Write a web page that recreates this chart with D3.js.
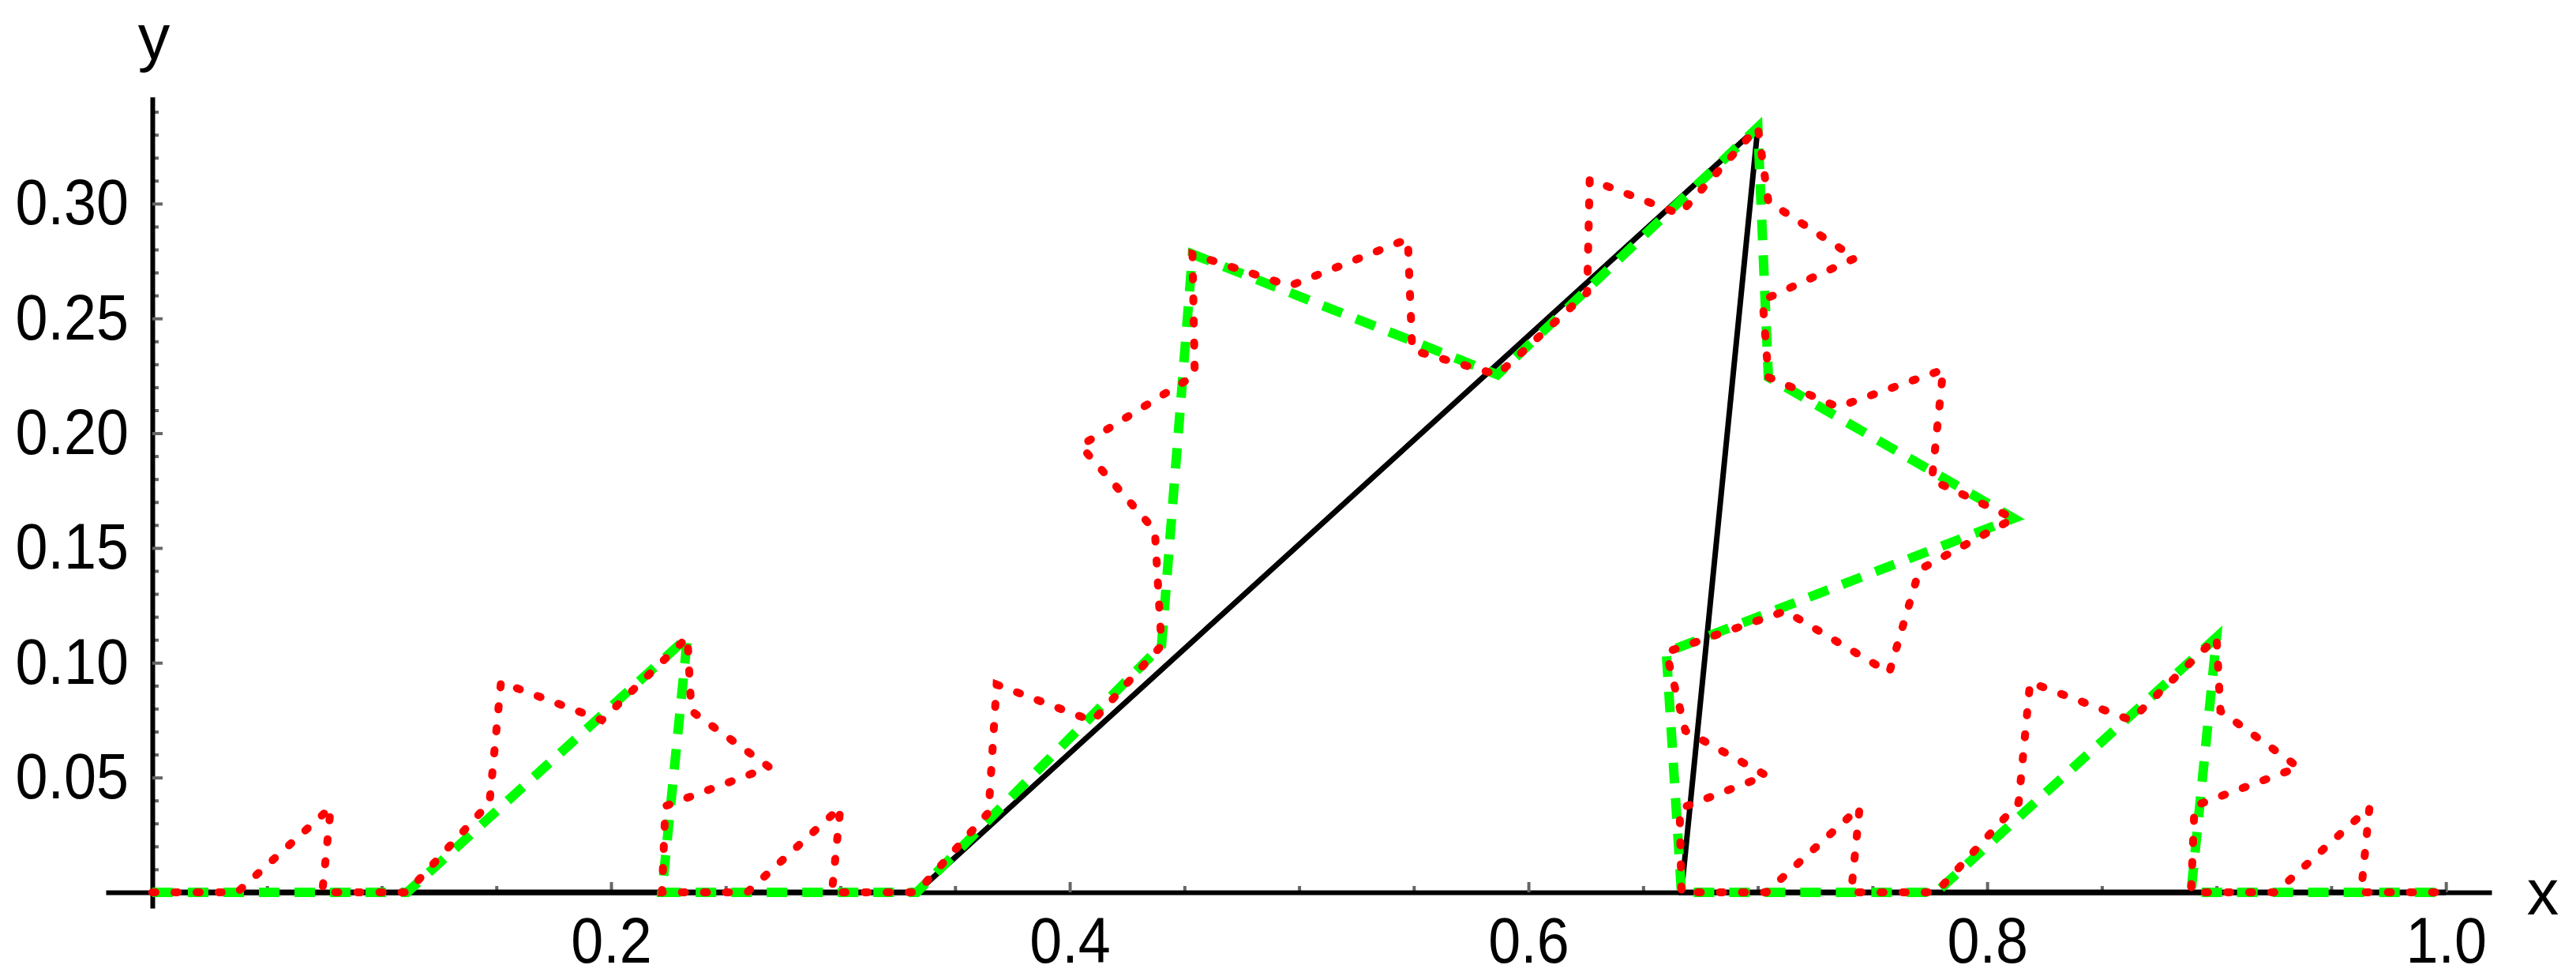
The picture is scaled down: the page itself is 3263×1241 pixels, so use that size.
<!DOCTYPE html>
<html>
<head>
<meta charset="utf-8">
<script src="https://cdn.jsdelivr.net/npm/d3@7"></script>
<style>
  body { margin: 0; background: #fff; }
  text { font-family: "Liberation Sans", Arial, sans-serif; }
</style>
</head>
<body>
<div id="chart"></div>
<script>
(() => {
  // stage 1 (black)
  const blackX = [0, 0.3333, 0.7, 0.6667, 1];
  const blackY = [0, 0, 0.3333, 0, 0];

  // stage 2 (green, dashed)
  const greenX = [0, 0.1111, 0.2333, 0.2222, 0.3333, 0.4400, 0.4535, 0.5865, 0.7000,
    0.7046, 0.8116, 0.6601, 0.6667, 0.7778, 0.9000, 0.8889, 1];
  const greenY = [0, 0, 0.1111, 0, 0, 0.1075, 0.2780, 0.2255, 0.3333,
    0.2244, 0.1629, 0.1046, 0, 0, 0.1111, 0, 0];

  // stage 3 (red, dotted)
  const redX = [0, 0.0370, 0.0778, 0.0741, 0.1111,
    0.1470, 0.1520, 0.1960, 0.2333,
    0.2350, 0.2690, 0.2237, 0.2222,
    0.2593, 0.3000, 0.2963, 0.3333,
    0.3646, 0.3681, 0.4100, 0.4400,
    0.4371, 0.4047, 0.4545, 0.4535,
    0.4960, 0.5474, 0.5493, 0.5865,
    0.6256, 0.6267, 0.6659, 0.7000,
    0.7046, 0.7425, 0.7021, 0.7046,
    0.7350, 0.7808, 0.7759, 0.8116,
    0.7704, 0.7573, 0.7120, 0.6601,
    0.6684, 0.7037, 0.6659, 0.6667,
    0.7037, 0.7444, 0.7407, 0.7778,
    0.8137, 0.8187, 0.8627, 0.9000,
    0.9017, 0.9357, 0.8904, 0.8889,
    0.9259, 0.9667, 0.9630, 1];
  const redY = [0, 0, 0.0370, 0, 0,
    0.0390, 0.0915, 0.0750, 0.1111,
    0.0790, 0.0545, 0.0376, 0,
    0, 0.0370, 0, 0,
    0.0348, 0.0905, 0.0746, 0.1075,
    0.1576, 0.1945, 0.2253, 0.2780,
    0.2642, 0.2846, 0.2362, 0.2255,
    0.2613, 0.3105, 0.2955, 0.3333,
    0.3009, 0.2763, 0.2579, 0.2244,
    0.2114, 0.2277, 0.1796, 0.1629,
    0.1405, 0.0957, 0.1225, 0.1046,
    0.0704, 0.0509, 0.0364, 0,
    0, 0.0370, 0, 0,
    0.0390, 0.0915, 0.0750, 0.1111,
    0.0790, 0.0545, 0.0376, 0,
    0, 0.0370, 0, 0];

  const xTicks = [0.2, 0.4, 0.6, 0.8, 1.0];
  const xTickLabels = ['0.2', '0.4', '0.6', '0.8', '1.0'];
  const xMinor = [0.05, 0.1, 0.15, 0.25, 0.3, 0.35, 0.45, 0.5, 0.55, 0.65, 0.7, 0.75, 0.85, 0.9, 0.95];
  const yTicks = [0.05, 0.10, 0.15, 0.20, 0.25, 0.30];
  const yTickLabels = ['0.05', '0.10', '0.15', '0.20', '0.25', '0.30'];

  let width = 3263, height = 1241;
  let labelSize = 81;

  let svg = d3.select('#chart')
    .append('svg')
    .attr('width', width)
    .attr('height', height)
    .style('background', '#fff');

  let xScale = d3.scaleLinear()
    .domain([-0.0203, 1.0199])
    .range([134, 3156]);

  let yScale = d3.scaleLinear()
    .domain([-0.0069, 0.3465])
    .range([1150, 122.7]);

  // minor ticks first, so the labelled axis sits on top
  let yMinor = d3.range(1, 35).map(d => d / 100).filter(d => d % 0.05 > 0.001 && d % 0.05 < 0.049);

  svg.append('g')
    .attr('transform', `translate(${xScale(0)}, 0)`)
    .call(d3.axisLeft(yScale).tickValues(yMinor).tickSize(-8).tickFormat(''))
    .call(g => g.select('.domain').remove())
    .call(g => g.selectAll('.tick line').attr('stroke', '#666').attr('stroke-width', 4));

  svg.append('g')
    .attr('transform', `translate(0, ${yScale(0)})`)
    .call(d3.axisBottom(xScale).tickValues(xMinor).tickSize(-8).tickFormat(''))
    .call(g => g.select('.domain').remove())
    .call(g => g.selectAll('.tick line').attr('stroke', '#666').attr('stroke-width', 4));

  let yAxis = d3.axisLeft(yScale)
    .tickValues(yTicks)
    .tickFormat((d, i) => yTickLabels[i])
    .tickSizeInner(-13)
    .tickSizeOuter(0)
    .tickPadding(33);

  svg.append('g')
    .attr('transform', `translate(${xScale(0)}, 0)`)
    .call(yAxis)
    .call(g => g.select('.domain').attr('stroke', '#000').attr('stroke-width', 6))
    .call(g => g.selectAll('.tick line').attr('stroke', '#666').attr('stroke-width', 4))
    .call(g => g.selectAll('.tick text')
      .attr('fill', '#000')
      .attr('transform', 'scale(0.91, 1)')
      .style('font-size', `${labelSize}px`)
      .style('font-family', '"Liberation Sans", Arial, sans-serif'));

  let xAxis = d3.axisBottom(xScale)
    .tickValues(xTicks)
    .tickFormat((d, i) => xTickLabels[i])
    .tickSizeInner(-13)
    .tickSizeOuter(0)
    .tickPadding(32);

  svg.append('g')
    .attr('transform', `translate(0, ${yScale(0)})`)
    .call(xAxis)
    .call(g => g.select('.domain').attr('stroke', '#000').attr('stroke-width', 6))
    .call(g => g.selectAll('.tick line').attr('stroke', '#666').attr('stroke-width', 4))
    .call(g => g.selectAll('.tick text')
      .attr('fill', '#000')
      .attr('transform', 'scale(0.91, 1)')
      .style('font-size', `${labelSize}px`)
      .style('font-family', '"Liberation Sans", Arial, sans-serif'));

  // axis names
  svg.append('text')
    .attr('x', 3221)
    .attr('y', 1158)
    .style('text-anchor', 'middle')
    .style('font-size', `${labelSize}px`)
    .text('x');

  svg.append('text')
    .attr('x', 195)
    .attr('y', 75)
    .style('text-anchor', 'middle')
    .style('font-size', `${labelSize}px`)
    .text('y');

  let line = d3.line()
    .x(d => xScale(d[0]))
    .y(d => yScale(d[1]));

  svg.append('path')
    .datum(d3.zip(blackX, blackY))
    .attr('d', line)
    .attr('fill', 'none')
    .attr('stroke', '#000')
    .attr('stroke-width', 7)
    .attr('stroke-linejoin', 'miter');

  svg.append('path')
    .datum(d3.zip(greenX, greenY))
    .attr('d', line)
    .attr('fill', 'none')
    .attr('stroke', '#00ff00')
    .attr('stroke-width', 12)
    .attr('stroke-dasharray', '26,19');

  svg.append('path')
    .datum(d3.zip(redX, redY))
    .attr('d', line)
    .attr('fill', 'none')
    .attr('stroke', '#ff0000')
    .attr('stroke-width', 10)
    .attr('stroke-linecap', 'round')
    .attr('stroke-dasharray', '4,24');
})()
</script>
</body>
</html>
